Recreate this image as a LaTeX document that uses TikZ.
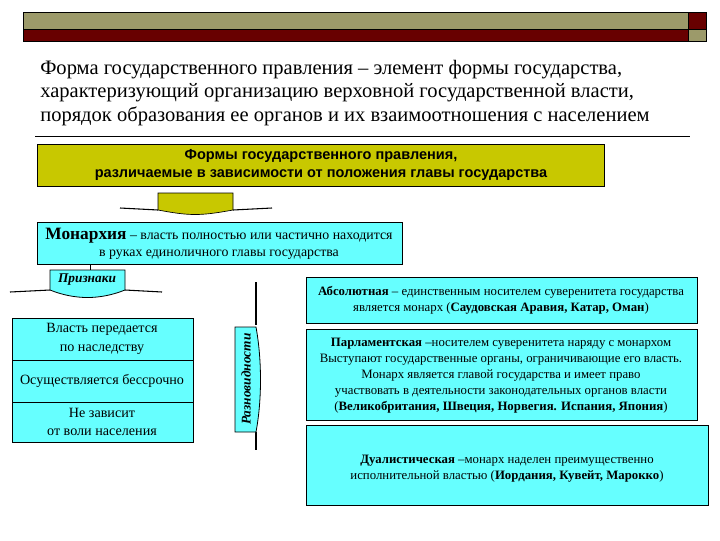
\documentclass[tikz,border=0pt]{standalone}
\usepackage{fontspec}
\setmainfont{Liberation Serif}
\newfontfamily\arialf{Liberation Sans}
\usetikzlibrary{positioning}
\definecolor{olivebar}{HTML}{9C9A6A}
\definecolor{darkred}{HTML}{680000}
\definecolor{ybox}{HTML}{C8C800}
\definecolor{cy}{HTML}{66FFFF}
\begin{document}
\begin{tikzpicture}[x=0.75pt,y=-0.75pt,
  cbox/.style={draw=black,fill=cy,line width=0.6pt},
  ttl/.style={anchor=west,font=\fontsize{15.4}{17}\selectfont,inner sep=0},
  sm/.style={align=center,font=\fontsize{9.6}{12}\selectfont,inner sep=0}]
\useasboundingbox (0,0) rectangle (720,540);
% header
\fill[olivebar] (23,12) rectangle (688,29);
\fill[darkred] (23,29) rectangle (688,41);
\fill[darkred] (688,12) rectangle (706,29);
\fill[olivebar] (688,29) rectangle (706,41);
\draw[line width=0.6pt] (23,12) rectangle (706,41);
\draw[line width=0.6pt] (23,29) -- (706,29) (688,12) -- (688,41);
% title
\node[ttl] (t1) at (40,70) {Форма государственного правления – элемент формы государства,};
\node[ttl] (t2) at (40,93) {характеризующий организацию верховной государственной власти,};
\node[ttl] (t3) at (40,116) {порядок образования ее органов и их взаимоотношения с населением};
\draw[line width=0.5pt] (35,136) -- (690,136);
% yellow box
\draw[fill=ybox,line width=0.6pt] (37,144) rectangle (604,186);
\node[align=center,font=\arialf\bfseries\fontsize{10.9}{13.5}\selectfont] (forms) at (321,165)
  {Формы государственного правления,\\различаемые в зависимости от положения главы государства};
% connector callout
\draw[fill=ybox,line width=0.5pt] (158,193) -- (233,193) -- (233,210) .. controls (200,216) and (190,216) .. (158,210) -- cycle;
\draw[line width=0.8pt] (120,208) -- (158,210) (233,210) -- (272,208);
% monarchy
\draw[cbox] (37,222) rectangle (402,264);
\node[align=center,font=\fontsize{10.4}{13}\selectfont] (mon) at (219,244)
  {{\fontsize{13}{13}\selectfont\bfseries Монархия} – власть полностью или частично находится\\в руках единоличного главы государства};
% priznaki
\draw[line width=0.5pt] (90,264) -- (90,270);
\draw[cbox] (50,270) -- (125,270) -- (125,290) .. controls (100,300) and (75,300) .. (50,290) -- cycle;
\draw[line width=0.8pt] (10,292) -- (50,290) (125,290) -- (162,292);
\node[font=\bfseries\itshape\fontsize{10}{11}\selectfont] (pr) at (87,280) {Признаки};
% left list
\draw[cbox] (12,318) rectangle (193,442);
\draw[line width=0.6pt] (12,360) -- (193,360) (12,402) -- (193,402);
\node[sm,font=\fontsize{10.6}{14}\selectfont] (l1) at (102,339) {Власть передается\\по наследству};
\node[sm,font=\fontsize{10.6}{14}\selectfont] (l2) at (102,381) {Осуществляется бессрочно};
\node[sm,font=\fontsize{10.6}{14}\selectfont] (l3) at (102,422) {Не зависит\\от воли населения};
% raznovidnosti
\draw[line width=0.8pt] (256,282) -- (256,325);
\draw[line width=0.8pt] (256,432) -- (256,450);
\draw[cbox] (235,327) -- (256,327) .. controls (262,360) and (262,400) .. (256,432) -- (235,432) -- cycle;
\node[rotate=90,font=\bfseries\itshape\fontsize{10}{11}\selectfont] (rz) at (246,379) {Разновидности};
% right boxes
\draw[cbox] (306,277) rectangle (697,323);
\node[sm] (abs) at (501,300) {{\bfseries Абсолютная} – единственным носителем суверенитета государства\\является монарх ({\bfseries Саудовская Аравия, Катар, Оман})};
\draw[cbox] (306,329) rectangle (697,420);
\node[sm] (par) at (501,376) {{\bfseries Парламентская} –носителем суверенитета наряду с монархом\\Выступают государственные органы, ограничивающие его власть.\\Монарх является главой государства и имеет право\\участвовать в деятельности законодательных органов власти\\({\bfseries Великобритания, Швеция, Норвегия. Испания, Япония})};
\draw[cbox] (306,425) rectangle (708,505);
\node[sm] (dua) at (507,469) {{\bfseries Дуалистическая} –монарх наделен преимущественно\\исполнительной властью ({\bfseries Иордания, Кувейт, Марокко})};
\end{tikzpicture}
\end{document}
